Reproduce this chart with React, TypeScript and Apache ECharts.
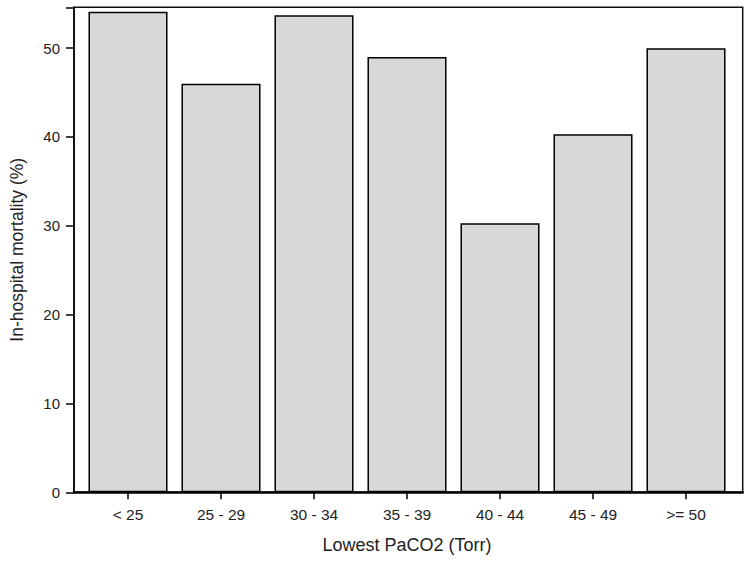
import React, { useEffect, useRef } from "react";
import * as echarts from "echarts";

const categories = ["< 25", "25 - 29", "30 - 34", "35 - 39", "40 - 44", "45 - 49", ">= 50"];
const mortality = [54.1, 46.0, 53.7, 49.0, 30.3, 40.3, 50.0];
const yTicks = [0, 10, 20, 30, 40, 50];

const FONT = "'Liberation Sans', Arial, sans-serif";

export default function App() {
  const ref = useRef<HTMLDivElement>(null);
  useEffect(() => {
    if (!ref.current) return;
    const chart = echarts.init(ref.current, undefined, { renderer: "svg" });
    const yMin = 0;
    const yMax = 54.6;
    chart.setOption({
      animation: false,
      backgroundColor: "#ffffff",
      textStyle: { fontFamily: FONT },
      grid: [
        { left: 72.7, right: 8.3, top: 7.3, bottom: 70.7, show: true, borderColor: "#111", borderWidth: 1.5, backgroundColor: "transparent" },
        { left: 81.5, right: 18.5, top: 7.3, bottom: 70.7 },
      ],
      xAxis: [
        {
          type: "category",
          gridIndex: 0,
          data: categories,
          axisLine: { show: true, lineStyle: { color: "#000", width: 2.5 } },
          axisTick: { show: false },
          axisLabel: { show: false },
        },
        {
          type: "category",
          gridIndex: 1,
          data: categories,
          axisLine: { show: false },
          axisTick: { show: true, alignWithLabel: true, length: 7, lineStyle: { color: "#000", width: 1.5 } },
          axisLabel: { show: true, fontSize: 15.5, color: "#222", margin: 14, fontFamily: FONT },
          name: "Lowest PaCO2 (Torr)",
          nameLocation: "middle",
          nameGap: 44,
          nameTextStyle: { fontSize: 18, color: "#222", fontFamily: FONT },
        },
      ],
      yAxis: [
        {
          type: "value",
          gridIndex: 0,
          min: yMin,
          max: yMax,
          interval: 10,
          axisLine: { show: true, lineStyle: { color: "#000", width: 1.5 } },
          axisTick: { show: true, length: 8, lineStyle: { color: "#000", width: 1.5 } },
          axisLabel: {
            show: true,
            fontSize: 15,
            color: "#222",
            margin: 14,
            fontFamily: FONT,
            formatter: (v: number) => (yTicks.includes(v) ? String(v) : ""),
          },
          splitLine: { show: false },
          name: "In-hospital mortality (%)",
          nameLocation: "middle",
          nameGap: 48,
          nameTextStyle: { fontSize: 17.5, color: "#222", fontFamily: FONT },
        },
        {
          type: "value",
          gridIndex: 1,
          min: yMin,
          max: yMax,
          interval: 10,
          show: false,
          splitLine: { show: false },
        },
      ],
      series: [
        {
          type: "bar",
          xAxisIndex: 1,
          yAxisIndex: 1,
          data: mortality,
          barCategoryGap: "15%",
          itemStyle: { color: "#d9d8d9", borderColor: "#000", borderWidth: 1.5 },
        },
      ],
    });
    return () => chart.dispose();
  }, []);
  return <div ref={ref} style={{ width: 751, height: 563, position: "absolute", left: 0, top: 0 }} />;
}
